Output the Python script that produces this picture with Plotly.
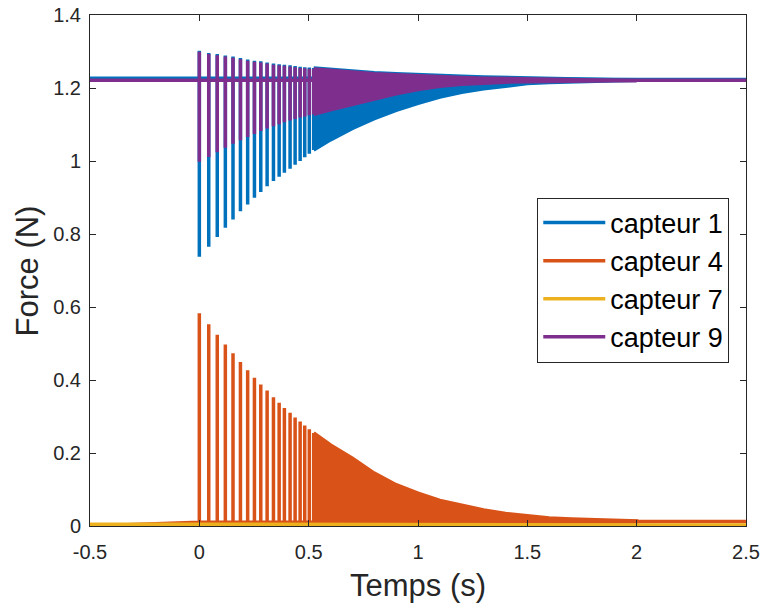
import plotly.graph_objects as go

# ---------------- data ----------------
series_names = ["capteur 1", "capteur 4", "capteur 7", "capteur 9"]
series_colors = ["#0072BD", "#D95319", "#EDB120", "#7E2F8E"]

t_start = -0.5
t_end = 2.5

# times of the distinct impacts (s)
spike_t = [0.000, 0.043, 0.082, 0.119, 0.154, 0.188, 0.221, 0.252, 0.281, 0.310,
           0.339, 0.365, 0.389, 0.415, 0.438, 0.461, 0.482, 0.503, 0.523]

# capteur 1 : extremes of each impact
c1_max = [1.302, 1.296, 1.293, 1.289, 1.286, 1.282, 1.278, 1.275, 1.273, 1.270,
          1.267, 1.265, 1.264, 1.262, 1.260, 1.258, 1.257, 1.256, 1.255]
c1_min = [0.738, 0.765, 0.792, 0.817, 0.840, 0.862, 0.881, 0.899, 0.915, 0.931,
          0.945, 0.957, 0.968, 0.979, 0.990, 1.000, 1.010, 1.020, 1.030]
# capteur 4 : peak of each impact
c4_peak = [0.583, 0.553, 0.524, 0.497, 0.473, 0.449, 0.427, 0.406, 0.388, 0.371,
           0.353, 0.338, 0.323, 0.310, 0.297, 0.286, 0.275, 0.265, 0.255]
# capteur 9 : extremes of each impact
c9_max = [1.299, 1.293, 1.290, 1.286, 1.283, 1.279, 1.275, 1.272, 1.270, 1.267,
          1.264, 1.262, 1.261, 1.259, 1.257, 1.255, 1.254, 1.253, 1.252]
c9_min = [0.998, 1.011, 1.024, 1.036, 1.047, 1.057, 1.066, 1.074, 1.082, 1.089,
          1.095, 1.101, 1.106, 1.111, 1.115, 1.119, 1.122, 1.125, 1.128]

# dense part of the signal (impacts too close to separate): envelopes
env_t = [0.523, 0.60, 0.70, 0.80, 0.90, 1.00, 1.10, 1.20, 1.30, 1.40,
         1.50, 1.60, 1.70, 1.80, 1.90, 2.00]
c1_env_hi = [1.255, 1.251, 1.246, 1.242, 1.239, 1.236, 1.234, 1.232, 1.230, 1.229,
             1.228, 1.227, 1.226, 1.225, 1.224, 1.223]
c1_env_lo = [1.030, 1.058, 1.089, 1.116, 1.139, 1.158, 1.175, 1.188, 1.198, 1.206,
             1.212, 1.215, 1.218, 1.219, 1.220, 1.221]
c4_env_hi = [0.255, 0.222, 0.186, 0.145, 0.113, 0.090, 0.070, 0.056, 0.044, 0.034,
             0.027, 0.022, 0.019, 0.017, 0.015, 0.014]
c4_env_lo = [0.010, 0.010, 0.010, 0.010, 0.010, 0.010, 0.010, 0.010, 0.010, 0.010,
             0.010, 0.010, 0.010, 0.011, 0.011, 0.011]
c9_env_hi = [1.252, 1.248, 1.243, 1.239, 1.236, 1.233, 1.231, 1.229, 1.227, 1.226,
             1.225, 1.224, 1.223, 1.222, 1.222, 1.221]
c9_env_lo = [1.128, 1.140, 1.156, 1.170, 1.184, 1.196, 1.205, 1.210, 1.214, 1.216,
             1.217, 1.218, 1.219, 1.219, 1.220, 1.220]

# baselines before the first impact / after the signal has settled
c1_base = [1.227, 1.223]
c4_base = [0.000, 0.012]
c7_base = [0.005, 0.003]
c9_base = [1.221, 1.221]

x_ticks = [-0.5, 0, 0.5, 1, 1.5, 2, 2.5]
x_ticklabels = ["-0.5", "0", "0.5", "1", "1.5", "2", "2.5"]
y_ticks = [0, 0.2, 0.4, 0.6, 0.8, 1, 1.2, 1.4]
y_ticklabels = ["0", "0.2", "0.4", "0.6", "0.8", "1", "1.2", "1.4"]
x_title = "Temps (s)"
y_title = "Force (N)"


# ---------------- build traces ----------------
def bipolar_line(base, mins, maxs):
    xs, ys = [t_start], [base[0]]
    for t, lo, hi in zip(spike_t, mins, maxs):
        xs += [t, t, t, t]
        ys += [base[0], lo, hi, base[0]]
    xs += [env_t[-1], t_end]
    ys += [base[1], base[1]]
    return xs, ys


def unipolar_line(base, peaks, after):
    xs, ys = [t_start], [base[0]]
    for t, p in zip(spike_t, peaks):
        xs += [t, t, t]
        ys += [after, p, after]
    xs += [env_t[-1], t_end]
    ys += [base[1], base[1]]
    return xs, ys


def band(hi, lo):
    return env_t + env_t[::-1], hi + lo[::-1]


LW = 3.5
fig = go.Figure()


def add_series(idx, line_xy, band_xy=None):
    name, col = series_names[idx], series_colors[idx]
    if band_xy is not None:
        fig.add_trace(go.Scatter(x=band_xy[0], y=band_xy[1], mode="lines",
                                 fill="toself", fillcolor=col,
                                 line=dict(color=col, width=LW),
                                 legendgroup=name, showlegend=False,
                                 hoverinfo="skip"))
    fig.add_trace(go.Scatter(x=line_xy[0], y=line_xy[1], mode="lines",
                             name=name, legendgroup=name,
                             line=dict(color=col, width=LW)))


add_series(0, bipolar_line(c1_base, c1_min, c1_max), band(c1_env_hi, c1_env_lo))
add_series(1, unipolar_line(c4_base, c4_peak, c4_env_lo[0]), band(c4_env_hi, c4_env_lo))
add_series(2, ([t_start, spike_t[0], spike_t[0], t_end],
               [c7_base[0], c7_base[0], c7_base[1], c7_base[1]]))
add_series(3, bipolar_line(c9_base, c9_min, c9_max), band(c9_env_hi, c9_env_lo))

FONT = "Liberation Sans, Arial, Helvetica, sans-serif"
AX = "#262626"

axis_common = dict(showline=True, linecolor=AX, linewidth=1, mirror="ticks",
                   ticks="inside", ticklen=6, tickwidth=1, tickcolor=AX,
                   showgrid=False, zeroline=False, automargin=False,
                   ticklabeloverflow="allow",
                   tickfont=dict(family=FONT, size=20, color=AX))

fig.update_layout(
    width=762, height=606,
    margin=dict(l=90, r=16, t=15, b=80),
    paper_bgcolor="white", plot_bgcolor="white",
    font=dict(family=FONT, color=AX),
    xaxis=dict(range=[-0.5, 2.5], tickvals=x_ticks, ticktext=x_ticklabels,
               ticklabelstandoff=8, **axis_common),
    yaxis=dict(range=[0, 1.4], tickvals=y_ticks, ticktext=y_ticklabels,
               ticklabelstandoff=4, **axis_common),
    legend=dict(x=0.9745, y=0.4814, xanchor="right", yanchor="middle",
                bgcolor="white", bordercolor=AX, borderwidth=1,
                font=dict(family=FONT, size=27, color="black"),
                tracegroupgap=0, itemwidth=62),
    showlegend=True,
    annotations=[
        dict(text=x_title, xref="paper", yref="paper", x=0.5, y=-0.1155,
             xanchor="center", yanchor="middle", showarrow=False,
             font=dict(family=FONT, size=31, color=AX)),
        dict(text=y_title, xref="paper", yref="paper", x=-0.0946, y=0.5,
             xanchor="center", yanchor="middle", showarrow=False, textangle=-90,
             font=dict(family=FONT, size=31, color=AX)),
    ],
)

# remove the default page margin so the 762x606 figure fills the window exactly
fig.write_html("out.html",
               config={"displayModeBar": False},
               post_script="document.body.style.margin='0';"
                           "document.body.style.overflow='hidden';")
